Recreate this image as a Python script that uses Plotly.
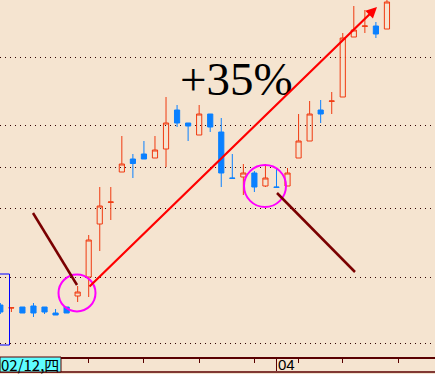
import plotly.graph_objects as go

# ---- data ----
idx = list(range(36))
opens = [9.940, 9.904, 9.916, 9.928, 9.916, 9.844, 9.916, 10.048, 10.276, 10.912,
         11.172, 11.536, 11.692, 11.752, 11.704, 11.812, 12.280, 12.124, 11.980, 12.232,
         12.016, 11.464, 11.476, 11.524, 11.368, 11.356, 11.368, 11.704, 11.908, 12.280,
         12.384, 12.436, 13.156, 13.284, 13.288, 13.252]
highs = [9.964, 9.907, 9.916, 9.964, 9.916, 9.892, 9.916, 10.168, 10.780, 11.356,
         11.356, 11.968, 11.752, 11.908, 11.968, 12.436, 12.340, 12.124, 12.340, 12.232,
         12.184, 11.752, 11.632, 11.548, 11.632, 11.584, 11.584, 12.232, 12.388, 12.400,
         12.496, 13.204, 13.528, 13.480, 13.336, 13.636]
lows = [9.832, 9.856, 9.844, 9.796, 9.832, 9.820, 9.844, 9.976, 10.036, 10.588,
        10.960, 11.536, 11.464, 11.692, 11.704, 11.596, 12.076, 11.908, 11.980, 12.016,
        11.356, 11.460, 11.260, 11.296, 11.356, 11.352, 11.368, 11.704, 11.908, 12.124,
        12.232, 12.436, 13.156, 13.204, 13.144, 13.252]
closes = [9.856, 9.907, 9.844, 9.844, 9.856, 9.820, 9.844, 10.096, 10.720, 11.128,
          11.176, 11.632, 11.638, 11.692, 11.800, 12.124, 12.124, 12.088, 12.232, 12.076,
          11.524, 11.460, 11.524, 11.356, 11.464, 11.352, 11.524, 11.908, 12.232, 12.232,
          12.388, 13.144, 13.240, 13.288, 13.192, 13.576]
grid_levels = [12.916, 12.100, 11.596, 11.104, 10.276, 9.484]
tick_idx = [8, 13, 18, 23, 27, 31, 36]
sep_idx = 25
date_label = "02/12,四"
month_label = "04"
gain_label = "+35%"

W, H, B = 435, 374, 17
PH = H - B

def px(x):
    return x / W

def py(y):
    return 1 - y / PH

BG = "#f5e4d0"
RED = "#f03a10"
BLUE = "#0a80ff"
DARK = "#5a0000"

fig = go.Figure()
fig.add_trace(go.Candlestick(
    x=idx, open=opens, high=highs, low=lows, close=closes,
    increasing=dict(line=dict(color=RED, width=1), fillcolor="rgba(0,0,0,0)"),
    decreasing=dict(line=dict(color=BLUE, width=1), fillcolor=BLUE),
    whiskerwidth=0, hoverinfo="skip", showlegend=False,
))

shapes = []
# magenta circles
for cx, cy, r in [(77, 293, 18.5), (265, 186, 21)]:
    shapes.append(dict(type="circle", xref="paper", yref="paper",
                       x0=px(cx - r), x1=px(cx + r), y0=py(cy + r), y1=py(cy - r),
                       line=dict(color="#ff00ff", width=2)))
# dark red pointer lines
for (x0, y0, x1, y1) in [(33, 213, 77, 285), (277, 193, 355, 272)]:
    shapes.append(dict(type="line", xref="paper", yref="paper",
                       x0=px(x0), y0=py(y0), x1=px(x1), y1=py(y1),
                       line=dict(color="#7a0000", width=2.5)))
# blue box at left
shapes.append(dict(type="rect", xref="paper", yref="paper",
                   x0=px(-2), x1=px(9.5), y0=py(345), y1=py(274),
                   line=dict(color="#0000ff", width=1)))
# bottom strip border
shapes.append(dict(type="line", xref="paper", yref="paper",
                   x0=0, x1=1, y0=py(372), y1=py(372),
                   line=dict(color=DARK, width=1.5)))
# cyan date box
shapes.append(dict(type="rect", xref="paper", yref="paper",
                   x0=px(0), x1=px(61), y0=py(372), y1=py(357),
                   fillcolor="#5ffdff", line=dict(color=DARK, width=1)))
# month separator
shapes.append(dict(type="line", xref="x", yref="paper",
                   x0=sep_idx, x1=sep_idx, y0=py(371), y1=0,
                   line=dict(color=DARK, width=1)))

annotations = [
    dict(text=gain_label, xref="paper", yref="paper", x=px(236), y=py(79),
         xanchor="center", yanchor="middle", showarrow=False,
         font=dict(family="Liberation Serif", size=47, color="black")),
    dict(text="", xref="paper", yref="paper", x=px(377), y=py(7),
         ax=88 - 377, ay=288 - 7, showarrow=True, arrowhead=2, arrowsize=1,
         arrowwidth=2.2, arrowcolor="#ff0000", standoff=0, startstandoff=0),
    dict(text=date_label, xref="paper", yref="paper", x=px(0), y=py(364.5),
         xanchor="left", yanchor="middle", showarrow=False, borderpad=0,
         font=dict(family="Noto Sans CJK SC", size=15, color="black")),
    dict(text=month_label, xref="x", yref="paper", x=sep_idx, y=py(364.5),
         xanchor="left", yanchor="middle", showarrow=False, xshift=0,
         font=dict(family="Liberation Sans", size=15, color="black")),
]

fig.update_layout(
    width=W, height=H,
    margin=dict(l=0, r=0, t=0, b=B, pad=0),
    paper_bgcolor=BG, plot_bgcolor=BG,
    boxgap=0.33,
    shapes=shapes, annotations=annotations,
    xaxis=dict(range=[-0.03, 39.35], rangeslider=dict(visible=False),
               showgrid=False, zeroline=False, showline=True, linecolor=DARK, linewidth=1.5,
               tickvals=tick_idx, ticktext=[""] * len(tick_idx), ticks="outside",
               ticklen=4, tickcolor=DARK, tickwidth=1, fixedrange=True),
    yaxis=dict(range=[9.316, 13.6], showgrid=True, gridcolor="#300000", gridwidth=1,
               griddash="1px,4px", tickvals=grid_levels, showticklabels=False,
               zeroline=False, showline=False, ticks="", fixedrange=True),
    showlegend=False,
)

fig.write_html("out.html", config={"displayModeBar": False})
